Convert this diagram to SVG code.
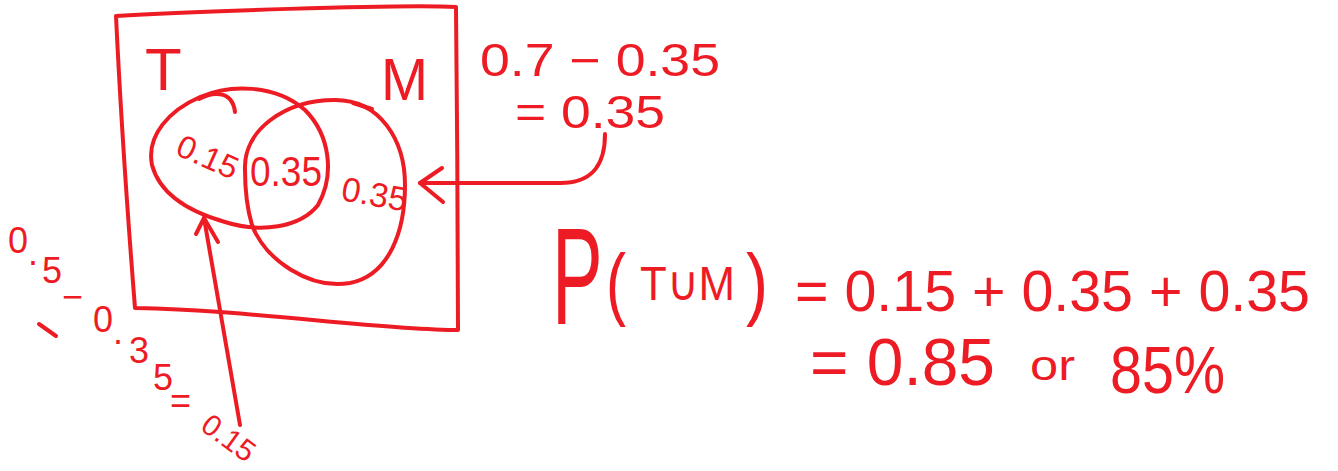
<svg xmlns="http://www.w3.org/2000/svg" width="1338" height="471" viewBox="0 0 1338 471">
<style>
.ink{fill:none;stroke:#ED1C24;stroke-width:4;stroke-linecap:round;stroke-linejoin:round}
.t{fill:#ED1C24;font-family:"Liberation Sans",Arial,sans-serif}
.d{font-size:36px}
</style>
<rect width="1338" height="471" fill="#ffffff"/>
<g id="universe">
<path class="ink" d="M116,16 C180,12 400,4 456,7 C457,100 458,250 458,330 C380,330 250,310 135,308 C128,220 120,100 116,16 Z"/>
</g>
<g id="setT">
<path class="ink" d="M200,97 C230,84 275,84 305,110 C330,135 335,175 318,205 C300,228 260,233 225,222 C190,212 160,195 152,165 C146,135 170,110 200,97 Z"/>
<path class="ink" d="M199,99 C210,93 232,88 235,112"/>
<text class="t" x="145" y="90" font-size="60">T</text>
<text class="t" x="174" y="154" font-size="32" textLength="64" lengthAdjust="spacingAndGlyphs" transform="rotate(24 174 154)">0.15</text>
</g>
<g id="setM">
<path class="ink" d="M245,170 C243,130 285,100 335,100 C380,100 405,140 405,185 C405,230 390,275 350,283 C310,290 265,260 252,225 C246,205 245,185 245,170 Z"/>
<path class="ink" d="M353,103 L372,109"/>
<text class="t" x="381" y="100" font-size="60" textLength="47" lengthAdjust="spacingAndGlyphs">M</text>
<text class="t" x="340" y="200" font-size="34" textLength="66" lengthAdjust="spacingAndGlyphs" transform="rotate(10 340 200)">0.35</text>
</g>
<g id="intersection">
<text class="t" x="250" y="186" font-size="42" textLength="72" lengthAdjust="spacingAndGlyphs">0.35</text>
</g>
<g id="connectors">
<path class="ink" d="M605,134 C605,162 595,183 560,183 L420,183"/>
<path class="ink" d="M442,168 L420,183 L443,202"/>
<path class="ink" d="M240,425 L204,218"/>
<path class="ink" d="M196,234 L204,218 L218,242"/>
</g>
<g id="note-M">
<text class="t" x="480" y="76" font-size="46" textLength="240" lengthAdjust="spacingAndGlyphs">0.7 − 0.35</text>
<text class="t" x="515" y="128" font-size="46" textLength="150" lengthAdjust="spacingAndGlyphs">= 0.35</text>
</g>
<g id="note-T">
<text class="t d" x="8" y="253">0</text>
<text class="t d" x="28" y="265">.</text>
<text class="t d" x="42" y="283">5</text>
<text class="t d" x="62" y="309">−</text>
<text class="t d" x="93" y="332">0</text>
<text class="t d" x="113" y="344">.</text>
<text class="t d" x="129" y="363">3</text>
<text class="t d" x="153" y="390">5</text>
<text class="t d" x="170" y="413">=</text>
<text class="t" x="199" y="429" font-size="30" transform="rotate(36 199 429)">0.15</text>
<path class="ink" d="M39,324 L56,336"/>
</g>
<g id="result">
<text class="t" font-size="138" transform="translate(552,324) scale(0.55,1)">P</text>
<text class="t" x="606" y="310" font-size="80" textLength="20" lengthAdjust="spacingAndGlyphs">(</text>
<text class="t" x="640" y="300" font-size="48" textLength="95" lengthAdjust="spacingAndGlyphs">T∪M</text>
<text class="t" x="746" y="310" font-size="80" textLength="22" lengthAdjust="spacingAndGlyphs">)</text>
<text class="t" x="795" y="311" font-size="58" textLength="515" lengthAdjust="spacingAndGlyphs">= 0.15 + 0.35 + 0.35</text>
<text class="t" x="810" y="385" font-size="66" textLength="185" lengthAdjust="spacingAndGlyphs">= 0.85</text>
<text class="t" x="1030" y="380" font-size="42" textLength="45" lengthAdjust="spacingAndGlyphs">or</text>
<text class="t" x="1110" y="393" font-size="66" textLength="115" lengthAdjust="spacingAndGlyphs">85%</text>
</g>
</svg>
